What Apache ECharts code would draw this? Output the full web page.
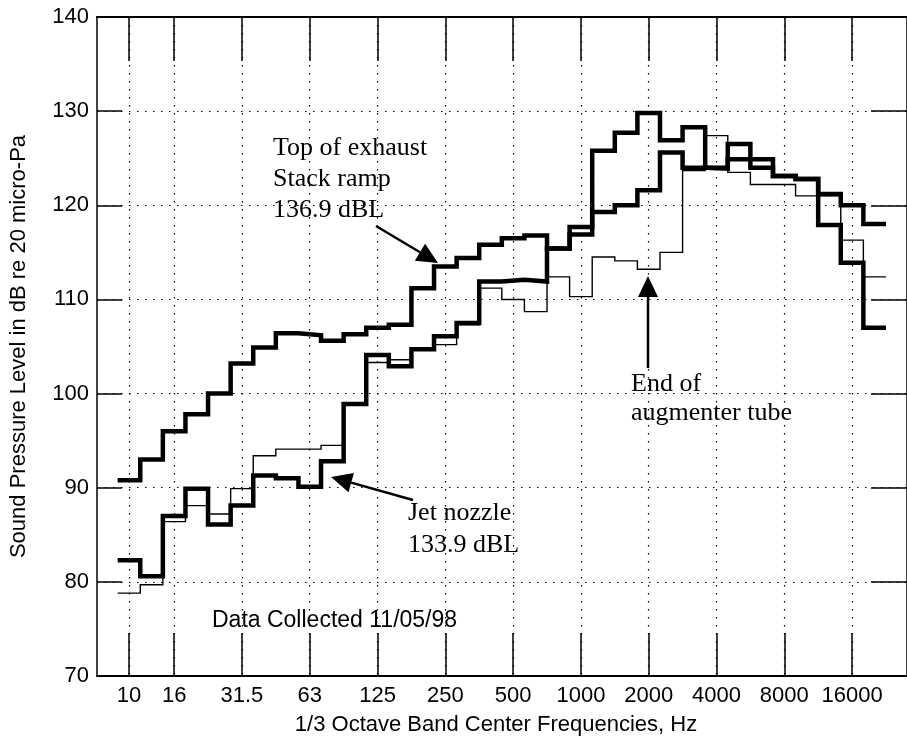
<!DOCTYPE html>
<html>
<head>
<meta charset="utf-8">
<title>1/3 Octave Band SPL</title>
<script src="https://cdn.jsdelivr.net/npm/echarts@6/dist/echarts.min.js"></script>
<style>
  html, body { margin: 0; padding: 0; background: #fff; }
  #main { width: 907px; height: 741px; }
</style>
</head>
<body>
<div id="main"></div>
<script>
// 1/3 octave band centres (Hz), one entry per step
var bands = ['10', '12.5', '16', '20', '25', '31.5', '40', '50', '63', '80', '100', '125',
  '160', '200', '250', '315', '400', '500', '630', '800', '1000', '1250', '1600', '2000',
  '2500', '3150', '4000', '5000', '6300', '8000', '10000', '12500', '16000', '20000'];
// labelled ticks on the frequency axis
var tickLabels = ['10', '16', '31.5', '63', '125', '250', '500', '1000', '2000', '4000', '8000', '16000'];
// y axis ticks (dB)
var yTicks = [70, 80, 90, 100, 110, 120, 130, 140];

// Top of exhaust stack ramp (thick)
var topExhaust = [90.8, 93.0, 96.0, 97.8, 100.0, 103.2, 104.9, 106.4, 106.2, 105.6, 106.3, 107.0,
  107.3, 111.2, 113.5, 114.4, 115.8, 116.5, 116.8, 115.4, 117.7, 125.8, 127.7, 129.8,
  126.9, 128.3, 124.0, 126.5, 124.9, 123.1, 122.8, 121.2, 120.0, 118.0];
// Jet nozzle (thick)
var jetNozzle = [82.3, 80.6, 87.0, 89.9, 86.1, 88.1, 91.3, 91.0, 90.1, 92.8, 98.9, 104.1,
  102.9, 104.7, 106.1, 107.5, 111.9, 112.1, 111.9, 115.4, 116.9, 119.3, 120.0, 121.6,
  125.6, 124.0, 123.9, 124.9, 124.0, 123.1, 122.8, 117.9, 113.9, 107.0];
// End of augmenter tube (thin)
var augmenterTube = [78.8, 79.7, 86.4, 88.1, 87.2, 89.9, 93.4, 94.1, 94.1, 94.5, 98.9, 103.3,
  103.6, 104.7, 105.2, 107.3, 111.2, 110.0, 108.7, 112.4, 110.3, 114.5, 114.1, 113.2,
  115.0, 123.7, 127.4, 123.5, 122.2, 122.2, 121.0, 121.0, 116.3, 112.4];

// band i is drawn as a flat step from i-0.5 to i+0.5
function stairs(vals) {
  var pts = [];
  for (var i = 0; i < vals.length; i++) {
    pts.push([i - 0.5, vals[i]]);
    pts.push([i + 0.5, vals[i]]);
  }
  return pts;
}

var tickIdx = tickLabels.map(function (l) { return bands.indexOf(l); });

var sansFont = "'Liberation Sans', Arial, Helvetica, sans-serif";
var serifFont = "'Liberation Serif', 'Times New Roman', Times, serif";

// arrow: line + filled head, pixel coords
function arrow(x1, y1, x2, y2) {
  var dx = x2 - x1, dy = y2 - y1;
  var len = Math.sqrt(dx * dx + dy * dy);
  var ux = dx / len, uy = dy / len;
  var hl = 21, hw = 20;
  var bx = x2 - ux * hl, by = y2 - uy * hl;
  return [
    { type: 'line', z: 100, shape: { x1: x1, y1: y1, x2: bx, y2: by },
      style: { stroke: '#000', lineWidth: 2.5 } },
    { type: 'polygon', z: 100,
      shape: { points: [[x2, y2], [bx - uy * hw / 2, by + ux * hw / 2], [bx + uy * hw / 2, by - ux * hw / 2]] },
      style: { fill: '#000' } }
  ];
}

function label(txt, x, y, font) {
  return { type: 'text', z: 100, x: x, y: y,
    style: { text: txt, font: font, fill: '#000', align: 'left', verticalAlign: 'middle' } };
}

var graphics = [].concat(
  label('Top of exhaust', 273, 148, '26px ' + serifFont),
  label('Stack ramp', 273, 179, '26px ' + serifFont),
  label('136.9 dBL', 273, 210, '26px ' + serifFont),
  label('Jet nozzle', 408, 513, '26px ' + serifFont),
  label('133.9 dBL', 408, 545, '26px ' + serifFont),
  label('End of', 631, 384, '26px ' + serifFont),
  label('augmenter tube', 631, 413, '26px ' + serifFont),
  label('Data Collected 11/05/98', 212, 621, '23px ' + sansFont),
  arrow(376, 226, 438, 263),
  arrow(413, 500, 331, 477),
  arrow(648, 368, 648, 276)
);

var gridLeft = 97, gridRight = 908;
var pxPerBand = 22.625, px0 = 129;

var chart = echarts.init(document.getElementById('main'));
var option = {
  animation: false,
  backgroundColor: '#fff',
  grid: { left: gridLeft, top: 17, width: gridRight - gridLeft, bottom: 61 },
  xAxis: [
    {
      type: 'value',
      position: 'bottom',
      min: (gridLeft - px0) / pxPerBand,
      max: (gridRight - px0) / pxPerBand,
      name: '1/3 Octave Band Center Frequencies, Hz',
      nameLocation: 'middle',
      nameGap: 38,
      nameTextStyle: { fontFamily: sansFont, fontSize: 22, color: '#000', padding: [0, 12, 0, 0] },
      axisLine: { onZero: false, lineStyle: { color: '#000', width: 2 } },
      axisTick: { inside: true, length: 43, customValues: tickIdx, lineStyle: { color: '#000', width: 1.5 } },
      axisLabel: {
        customValues: tickIdx,
        margin: 9,
        fontFamily: sansFont, fontSize: 22, color: '#000',
        formatter: function (v) { return bands[Math.round(v)]; }
      },
      splitLine: { show: true, lineStyle: { color: '#000', width: 1.2, type: [1.5, 6.5] } }
    },
    {
      type: 'value',
      position: 'top',
      min: (gridLeft - px0) / pxPerBand,
      max: (gridRight - px0) / pxPerBand,
      axisLine: { onZero: false, lineStyle: { color: '#000', width: 2 } },
      axisTick: { inside: true, length: 44, customValues: tickIdx, lineStyle: { color: '#000', width: 1.5 } },
      axisLabel: { show: false },
      splitLine: { show: false }
    }
  ],
  yAxis: [
    {
      type: 'value',
      position: 'left',
      min: yTicks[0],
      max: yTicks[yTicks.length - 1],
      interval: 10,
      name: 'Sound Pressure Level in dB re 20 micro-Pa',
      nameLocation: 'middle',
      nameGap: 67,
      nameTextStyle: { fontFamily: sansFont, fontSize: 22, color: '#000' },
      axisLine: { show: true, onZero: false, lineStyle: { color: '#000', width: 1.5 } },
      axisTick: { show: true, inside: true, length: 25, lineStyle: { color: '#000', width: 1.5 } },
      axisLabel: { margin: 8, fontFamily: sansFont, fontSize: 22, color: '#000' },
      splitLine: { show: true, lineStyle: { color: '#000', width: 1.2, type: [1.5, 6.5] } }
    },
    {
      type: 'value',
      position: 'right',
      min: yTicks[0],
      max: yTicks[yTicks.length - 1],
      interval: 10,
      axisLine: { show: true, onZero: false, lineStyle: { color: '#000', width: 1.5 } },
      axisTick: { show: true, inside: true, length: 36, lineStyle: { color: '#000', width: 1.5 } },
      axisLabel: { show: false },
      splitLine: { show: false }
    }
  ],
  series: [
    {
      name: 'Top of exhaust',
      type: 'line',
      data: stairs(topExhaust),
      showSymbol: false,
      lineStyle: { color: '#000', width: 4.5, join: 'miter' }
    },
    {
      name: 'Jet nozzle',
      type: 'line',
      data: stairs(jetNozzle),
      showSymbol: false,
      lineStyle: { color: '#000', width: 4.5, join: 'miter' }
    },
    {
      name: 'End of augmenter tube',
      type: 'line',
      data: stairs(augmenterTube),
      showSymbol: false,
      lineStyle: { color: '#000', width: 1.4, join: 'miter' }
    }
  ],
  graphic: graphics
};
chart.setOption(option);
</script>
</body>
</html>
